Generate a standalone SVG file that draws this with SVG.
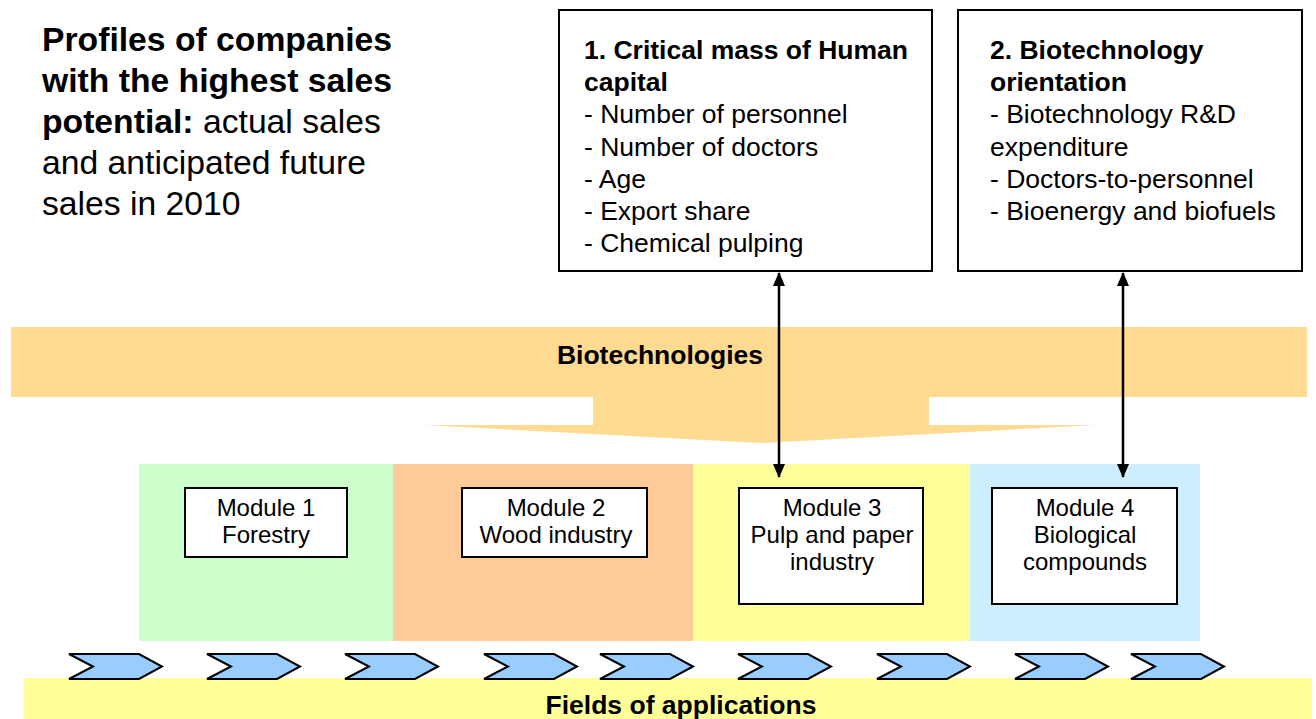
<svg xmlns="http://www.w3.org/2000/svg" width="1316" height="719" viewBox="0 0 1316 719">
<style>
text{font-family:"Liberation Sans",Arial,sans-serif;fill:#000}
.b{font-weight:bold}
.title{font-size:33.7px}
.box{fill:#fff;stroke:#000;stroke-width:2}
.bt{font-size:26.5px}
.mt{font-size:24px}
.band{font-size:26.5px;font-weight:bold}
.chev{fill:#99ccff;stroke:#000;stroke-width:2;stroke-linejoin:miter}
.conn{stroke:#000;stroke-width:2.5;fill:none}
</style>
<defs>
<marker id="ah" viewBox="0 0 14 12" refX="13" refY="6" markerWidth="14" markerHeight="12" orient="auto-start-reverse" markerUnits="userSpaceOnUse">
<path d="M0,0 L14,6 L0,12 z" fill="#000"/>
</marker>
<path id="chev" class="chev" d="M0,0 H70 L93,12.5 L70,25 H0 L24,12.5 Z"/>
</defs>

<g id="title">
<text class="title" x="42" y="51"><tspan class="b">Profiles of companies</tspan></text>
<text class="title" x="42" y="92"><tspan class="b">with the highest sales</tspan></text>
<text class="title" x="42" y="133"><tspan class="b">potential:</tspan> actual sales</text>
<text class="title" x="42" y="174">and anticipated future</text>
<text class="title" x="42" y="215">sales in 2010</text>
</g>

<g id="biotechnologies">
<path d="M11,327 H1307 V397 H929 V425 H1096 L761,443 L425,425 H593 V397 H11 Z" fill="#ffda91"/>
<text class="band" x="660" y="364" text-anchor="middle">Biotechnologies</text>
</g>

<g id="modules-bg">
<rect x="139" y="464" width="254" height="177" fill="#ccffcc"/>
<rect x="393" y="464" width="300" height="177" fill="#ffcc99"/>
<rect x="693" y="464" width="277" height="177" fill="#ffff99"/>
<rect x="970" y="464" width="230" height="177" fill="#cceeff"/>
</g>

<g id="fields">
<rect x="24" y="678" width="1288" height="41" fill="#ffff99"/>
<text class="band" x="681" y="714" text-anchor="middle">Fields of applications</text>
</g>

<g id="chevrons">
<use href="#chev" x="69" y="654"/>
<use href="#chev" x="207" y="654"/>
<use href="#chev" x="345" y="654"/>
<use href="#chev" x="484" y="654"/>
<use href="#chev" x="600" y="654"/>
<use href="#chev" x="738" y="654"/>
<use href="#chev" x="877" y="654"/>
<use href="#chev" x="1015" y="654"/>
<use href="#chev" x="1131" y="654"/>
</g>

<g id="box1">
<rect class="box" x="559" y="10" width="373" height="261"/>
<text class="bt b" x="584" y="59">1. Critical mass of Human</text>
<text class="bt b" x="584" y="91">capital</text>
<text class="bt" x="584" y="123">- Number of personnel</text>
<text class="bt" x="584" y="156">- Number of doctors</text>
<text class="bt" x="584" y="188">- Age</text>
<text class="bt" x="584" y="220">- Export share</text>
<text class="bt" x="584" y="252">- Chemical pulping</text>
</g>

<g id="box2">
<rect class="box" x="958" y="10" width="344" height="261"/>
<text class="bt b" x="990" y="59">2. Biotechnology</text>
<text class="bt b" x="990" y="91">orientation</text>
<text class="bt" x="990" y="123">- Biotechnology R&amp;D</text>
<text class="bt" x="990" y="156">expenditure</text>
<text class="bt" x="990" y="188">- Doctors-to-personnel</text>
<text class="bt" x="990" y="220">- Bioenergy and biofuels</text>
</g>

<g id="module1">
<rect class="box" x="185" y="488" width="162" height="69"/>
<text class="mt" x="266" y="516" text-anchor="middle">Module 1</text>
<text class="mt" x="266" y="543" text-anchor="middle">Forestry</text>
</g>
<g id="module2">
<rect class="box" x="462" y="488" width="185" height="69"/>
<text class="mt" x="556" y="516" text-anchor="middle">Module 2</text>
<text class="mt" x="556" y="543" text-anchor="middle">Wood industry</text>
</g>
<g id="module3">
<rect class="box" x="739" y="488" width="184" height="116"/>
<text class="mt" x="832" y="516" text-anchor="middle">Module 3</text>
<text class="mt" x="832" y="543" text-anchor="middle">Pulp and paper</text>
<text class="mt" x="832" y="570" text-anchor="middle">industry</text>
</g>
<g id="module4">
<rect class="box" x="992" y="488" width="185" height="116"/>
<text class="mt" x="1085" y="516" text-anchor="middle">Module 4</text>
<text class="mt" x="1085" y="543" text-anchor="middle">Biological</text>
<text class="mt" x="1085" y="570" text-anchor="middle">compounds</text>
</g>

<g id="connectors">
<line class="conn" x1="779" y1="273" x2="779" y2="477" marker-start="url(#ah)" marker-end="url(#ah)"/>
<line class="conn" x1="1123" y1="273" x2="1123" y2="477" marker-start="url(#ah)" marker-end="url(#ah)"/>
</g>
</svg>
